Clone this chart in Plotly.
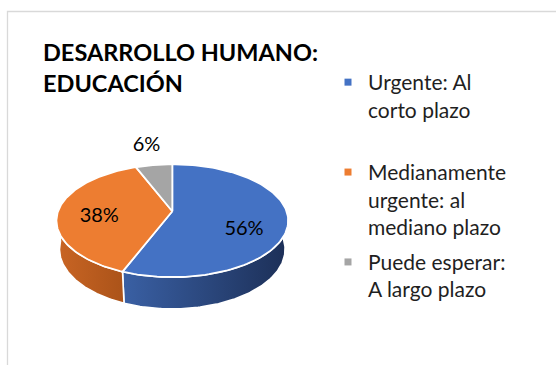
import numpy as np
import plotly.graph_objects as go

# ---- data ----
categories = [
    "Urgente: Al corto plazo",
    "Medianamente urgente: al mediano plazo",
    "Puede esperar: A largo plazo",
]
legend_names = [
    "Urgente: Al<br>corto plazo<br>\u00a0",
    "Medianamente<br>urgente: al<br>mediano plazo",
    "Puede esperar:<br>A largo plazo",
]
values = [56, 38, 6]
title_text = "DESARROLLO HUMANO:<br>EDUCACIÓN"

# ---- styling ----
top_colors = ["#4472C4", "#ED7D31", "#A5A5A5"]
side_colors = [("#3A60A4", "#1C2F57"), ("#C96524", "#AB5319"), ("#8A8A8A", "#6F6F6F")]
FONT = "Lato"
W, H = 556, 365

# ---- 3-D pie projection (pixel space, y grows downward) ----
CX, CY = 172.3, 211.3          # screen position of the pie centre
ELEV = np.radians(28.7)         # viewing elevation
SIN, COS = np.sin(ELEV), np.cos(ELEV)
DIST = 5.26                     # camera distance in pie radii
FOC = 601.0                     # focal length in pixels
DEPTH = 0.29                    # pie thickness in pie radii
LABEL_R = 73.0                  # inside-label distance from the centre (px)
LABEL_DY = 5.5                  # inside labels sit slightly below the centre


def proj(u, v, h=0.0):
    """Project a point of the pie (u right, v away, h down) to the screen."""
    yc = v * SIN - h * COS
    zc = DIST + v * COS + h * SIN
    return CX + FOC * u / zc, CY - FOC * yc / zc


def arc(t0, t1, h=0.0, n=120):
    t = np.linspace(t0, t1, n)
    return proj(np.sin(t), np.cos(t), h)


fractions = np.array(values, dtype=float) / np.sum(values)
edges = np.concatenate([[0.0], np.cumsum(fractions)]) * 2 * np.pi  # clockwise from 12 o'clock

fig = go.Figure()

# side walls (front half only)
for i in range(len(values)):
    a0, a1 = max(edges[i], np.pi / 2), min(edges[i + 1], 3 * np.pi / 2)
    if a0 >= a1:
        continue
    xt, yt = arc(a0, a1)
    xb, yb = arc(a1, a0, DEPTH)
    xs = np.concatenate([xt, xb, xt[:1]])
    ys = np.concatenate([yt, yb, yt[:1]])
    fig.add_trace(go.Scatter(
        x=xs, y=ys, mode="lines", fill="toself",
        line=dict(color="white", width=1.6),
        fillgradient=dict(type="horizontal",
                          colorscale=[[0, side_colors[i][0]], [1, side_colors[i][1]]],
                          start=float(xs.min()), stop=float(xs.max())),
        hoverinfo="skip", showlegend=False,
    ))

# top faces
for i in range(len(values)):
    xa, ya = arc(edges[i], edges[i + 1])
    x0, y0 = proj(0.0, 0.0)
    xs = np.concatenate([[x0], xa, [x0]])
    ys = np.concatenate([[y0], ya, [y0]])
    fig.add_trace(go.Scatter(
        x=xs, y=ys, mode="lines", fill="toself", fillcolor=top_colors[i],
        line=dict(color="white", width=1.8),
        name=categories[i], hoverinfo="skip", showlegend=False,
    ))

# data labels: large slices inside, small slices outside the rim
lx, ly, lt = [], [], []
for i, val in enumerate(values):
    mid = (edges[i] + edges[i + 1]) / 2
    if fractions[i] > 0.1:
        px = CX + LABEL_R * np.sin(mid)
        py = CY + LABEL_DY - LABEL_R * np.cos(mid)
    else:
        px, py = proj(1.5 * np.sin(mid), 1.5 * np.cos(mid))
    lx.append(px)
    ly.append(py)
    lt.append(f"{val}%")
fig.add_trace(go.Scatter(
    x=lx, y=ly, text=lt, mode="text", textposition="middle center",
    textfont=dict(family=FONT, size=20, color="#000000"),
    hoverinfo="skip", showlegend=False,
))

# legend entries
for k, (name, col) in enumerate(zip(legend_names, top_colors)):
    fig.add_trace(go.Scatter(
        x=[None], y=[None], mode="markers", name=name, legendgroup=f"g{k}",
        marker=dict(symbol="square", size=7, color=col),
    ))

fig.update_layout(
    width=W, height=H,
    margin=dict(l=0, r=0, t=0, b=0),
    paper_bgcolor="white", plot_bgcolor="white",
    xaxis=dict(range=[0, W], visible=False, fixedrange=True),
    yaxis=dict(range=[H, 0], visible=False, fixedrange=True),
    title=dict(
        text=title_text, x=43 / W, xanchor="left", xref="paper",
        y=1 - 61 / H, yanchor="top", yref="container",
        font=dict(family=FONT, size=23.5, color="#000000", weight="bold"),
    ),
    showlegend=True,
    legend=dict(
        x=328 / W, y=1 - 62 / H, xanchor="left", yanchor="top",
        font=dict(family=FONT, size=21, color="#1F1F1F"),
        valign="top", tracegroupgap=5, bgcolor="rgba(0,0,0,0)",
        itemclick=False, itemdoubleclick=False,
    ),
    shapes=[dict(type="rect", xref="paper", yref="paper",
                 x0=7.5 / W, x1=1.05, y0=-0.05, y1=1 - 11.5 / H,
                 line=dict(color="#D9D9D9", width=1.3), layer="below")],
)

fig.write_html("out.html")
